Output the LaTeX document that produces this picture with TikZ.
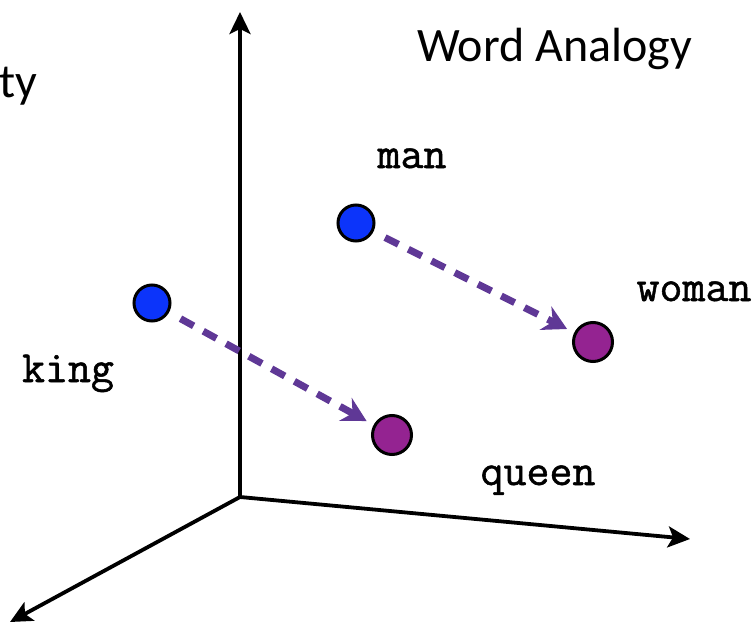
\documentclass[tikz,border=0pt]{standalone}
\usepackage{fontspec}
\setmainfont{Carlito}
\newfontfamily\wordfont[FakeBold=1.2]{Latin Modern Mono}
\usepackage{tikz}
\usetikzlibrary{arrows.meta}

\definecolor{ptblue}{RGB}{12,52,250}
\definecolor{ptpurple}{RGB}{148,35,145}
\definecolor{vecpurple}{RGB}{95,56,150}

\begin{document}
\begin{tikzpicture}[
  x=1pt, y=-1pt,
  axis/.style={-{Stealth[length=22pt, width=21pt, inset=5pt]}, line width=3.8pt},
  vec/.style={-{Stealth[length=24pt, width=26pt, inset=8pt]}, line width=7pt, draw=vecpurple,
    dash pattern=on 15pt off 11pt, shorten <=13pt, shorten >=8pt},
  male/.style={circle, draw, line width=3pt, fill=ptblue, minimum size=36pt, inner sep=0pt},
  female/.style={circle, draw, line width=3pt, fill=ptpurple, minimum size=39pt, inner sep=0pt},
  word/.style={anchor=base, inner sep=0pt, font=\wordfont\fontsize{44.6}{44.6}\selectfont},
  title/.style={anchor=base west, inner sep=0pt, font=\fontsize{48}{48}\selectfont}
]
  \useasboundingbox (0,0) rectangle (756,626);

  % axes
  \coordinate (origin) at (240,497);
  \coordinate (ztip) at (240,12);
  \coordinate (xtip) at (690,539);
  \coordinate (ytip) at (10,622);
  \draw[axis] (origin) -- (ztip);
  \draw[axis] (origin) -- (xtip);
  \draw[axis] (origin) -- (ytip);

  % titles
  \node[title] (sim) at (-1,98) {ty};
  \node[title] (analogy) at (417,62) {Word Analogy};

  % word vectors
  \node[male] (kingpt) at (152,303) {};
  \node[male] (manpt) at (356,223) {};
  \node[female] (queenpt) at (392,435) {};
  \node[female] (womanpt) at (593,342) {};

  \node[word] (king) at (68,382) {king};
  \node[word] (man) at (412,168) {man};
  \node[word] (queen) at (538,485) {queen};
  \node[word] (woman) at (694,301) {woman};

  \draw[vec] (kingpt) -- (queenpt);
  \draw[vec] (manpt) -- (womanpt);
\end{tikzpicture}
\end{document}
